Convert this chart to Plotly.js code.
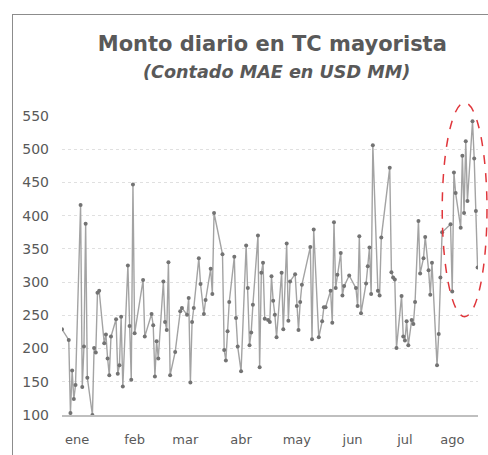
<!DOCTYPE html>
<html>
<head>
<meta charset="utf-8">
<script src="https://cdn.plot.ly/plotly-3.0.1.min.js"></script>
<style>
  html, body { margin: 0; padding: 0; background: #fff; overflow: hidden; }
  #wrap { position: relative; width: 488px; height: 455px; }
  #chart { position: absolute; left: 0; top: 0; width: 488px; height: 455px; }
  #frame { position: absolute; left: 12px; top: 14px; width: 490px; height: 460px;
           border-left: 1px solid #8c8c8c; border-top: 1px solid #8c8c8c; pointer-events: none; }
</style>
</head>
<body>
<div id="wrap"><div id="chart"></div><div id="frame"></div></div>
<script>
// Daily wholesale FX volume (USD MM)
const dates = [
  "2023-12-28","2024-01-01","2024-01-02","2024-01-03","2024-01-04","2024-01-05",
  "2024-01-08","2024-01-09","2024-01-10","2024-01-11","2024-01-12",
  "2024-01-15","2024-01-16","2024-01-17","2024-01-18","2024-01-19",
  "2024-01-22","2024-01-23","2024-01-24","2024-01-25","2024-01-26",
  "2024-01-29","2024-01-30","2024-01-31","2024-02-01","2024-02-02",
  "2024-02-05","2024-02-06","2024-02-07","2024-02-08","2024-02-09",
  "2024-02-14","2024-02-15",
  "2024-02-19","2024-02-20","2024-02-21","2024-02-22","2024-02-23",
  "2024-02-26","2024-02-27","2024-02-28","2024-02-29","2024-03-01",
  "2024-03-04","2024-03-07","2024-03-08",
  "2024-03-11","2024-03-12","2024-03-13","2024-03-14","2024-03-15",
  "2024-03-18","2024-03-19","2024-03-21","2024-03-22",
  "2024-03-25","2024-03-26","2024-03-27",
  "2024-04-01","2024-04-02","2024-04-03","2024-04-04","2024-04-05",
  "2024-04-08","2024-04-09","2024-04-10","2024-04-12",
  "2024-04-15","2024-04-16","2024-04-17","2024-04-18","2024-04-19",
  "2024-04-22","2024-04-23","2024-04-24","2024-04-25","2024-04-26",
  "2024-04-28","2024-04-29","2024-04-30","2024-05-01","2024-05-02","2024-05-03",
  "2024-05-06","2024-05-07","2024-05-09","2024-05-10","2024-05-11",
  "2024-05-14","2024-05-15","2024-05-16","2024-05-17","2024-05-18",
  "2024-05-23","2024-05-24","2024-05-25",
  "2024-05-28","2024-05-30","2024-05-31","2024-06-01",
  "2024-06-04","2024-06-05","2024-06-06","2024-06-07","2024-06-08",
  "2024-06-10","2024-06-11","2024-06-12","2024-06-15",
  "2024-06-19","2024-06-20","2024-06-21","2024-06-22",
  "2024-06-25","2024-06-26","2024-06-27","2024-06-28","2024-06-29",
  "2024-07-02","2024-07-03","2024-07-04",
  "2024-07-09","2024-07-10","2024-07-11","2024-07-12","2024-07-13",
  "2024-07-16","2024-07-17","2024-07-18","2024-07-19","2024-07-20",
  "2024-07-22","2024-07-23","2024-07-24","2024-07-26","2024-07-27",
  "2024-07-29","2024-07-30",
  "2024-08-01","2024-08-02","2024-08-03",
  "2024-08-06","2024-08-07","2024-08-08","2024-08-09",
  "2024-08-14","2024-08-15","2024-08-16","2024-08-17",
  "2024-08-20","2024-08-21","2024-08-22","2024-08-23","2024-08-24",
  "2024-08-27","2024-08-28","2024-08-29","2024-08-30"
];
const montos = [
  229,213,103,167,124,145,416,142,203,388,
  156,100,201,194,284,287,208,221,185,160,
  218,244,162,175,248,143,325,234,153,447,
  223,303,218,252,235,158,211,185,301,240,
  228,330,160,195,256,261,251,276,149,240,
  261,336,297,252,273,320,282,404,342,198,
  182,226,270,338,246,203,166,355,291,205,
  224,266,370,172,314,329,245,243,240,309,
  272,251,217,314,229,358,242,301,312,264,
  228,270,296,353,214,379,217,241,262,262,
  287,239,390,291,311,344,280,294,310,291,
  264,369,253,298,324,352,282,506,287,280,
  367,472,315,307,304,201,279,218,212,241,
  205,243,237,270,392,313,336,368,318,281,
  329,175,222,307,375,387,286,465,434,382,
  490,404,512,422,542,486,407,322
];
const monthTickDates = ["2024-01-06","2024-02-09","2024-03-10","2024-04-12","2024-05-15","2024-06-17","2024-07-18","2024-08-15"];
const monthLabels = ["ene","feb","mar","abr","may","jun","jul","ago"];
const yTicks = [100,150,200,250,300,350,400,450,500,550];

const txt = "#595959";
const fontFam = "DejaVu Sans, Verdana, sans-serif";

const trace = {
  x: dates, y: montos, type: "scatter", mode: "lines+markers",
  line: { color: "#a3a3a3", width: 1.4 },
  marker: { color: "#737373", size: 4, symbol: "circle" },
  hoverinfo: "x+y"
};

const layout = {
  width: 488, height: 455,
  margin: { l: 62, r: 9.5, t: 116, b: 40 },
  paper_bgcolor: "rgba(0,0,0,0)", plot_bgcolor: "rgba(0,0,0,0)",
  showlegend: false,
  font: { family: fontFam, color: txt, size: 14 },
  title: {
    text: "<b>Monto diario en TC mayorista</b>",
    font: { family: fontFam, size: 21, color: txt },
    xref: "container", x: 0.558, xanchor: "center",
    yref: "container", y: 0.903, yanchor: "middle"
  },
  annotations: [{
    text: "<b><i>(Contado MAE en USD MM)</i></b>",
    xref: "paper", yref: "paper", x: 0.516, y: 1.147,
    xanchor: "center", yanchor: "middle", showarrow: false,
    font: { family: fontFam, size: 17.6, color: txt }
  }],
  xaxis: {
    type: "date",
    range: ["2023-12-28", "2024-08-30 06:00"],
    tickmode: "array", tickvals: monthTickDates, ticktext: monthLabels,
    showgrid: false, zeroline: false,
    showline: true, linecolor: "#bfbfbf", linewidth: 1.5,
    ticks: "", ticklabelstandoff: 12,
    tickfont: { family: fontFam, size: 13, color: txt }
  },
  yaxis: {
    range: [100, 550],
    tickmode: "array", tickvals: yTicks,
    showgrid: true, gridcolor: "#e0e0e0", griddash: "dot", gridwidth: 1,
    zeroline: false, showline: false, ticks: "", ticklabelstandoff: 12,
    tickfont: { family: fontFam, size: 14, color: txt }
  },
  shapes: [{
    type: "circle", xref: "paper", yref: "paper",
    x0: 0.914, x1: 1.0216, y0: 0.329, y1: 1.0445,
    line: { color: "#e0363b", width: 1.5, dash: "dash" }
  }]
};

Plotly.newPlot("chart", [trace], layout, { displayModeBar: false, staticPlot: true });
</script>
</body>
</html>
